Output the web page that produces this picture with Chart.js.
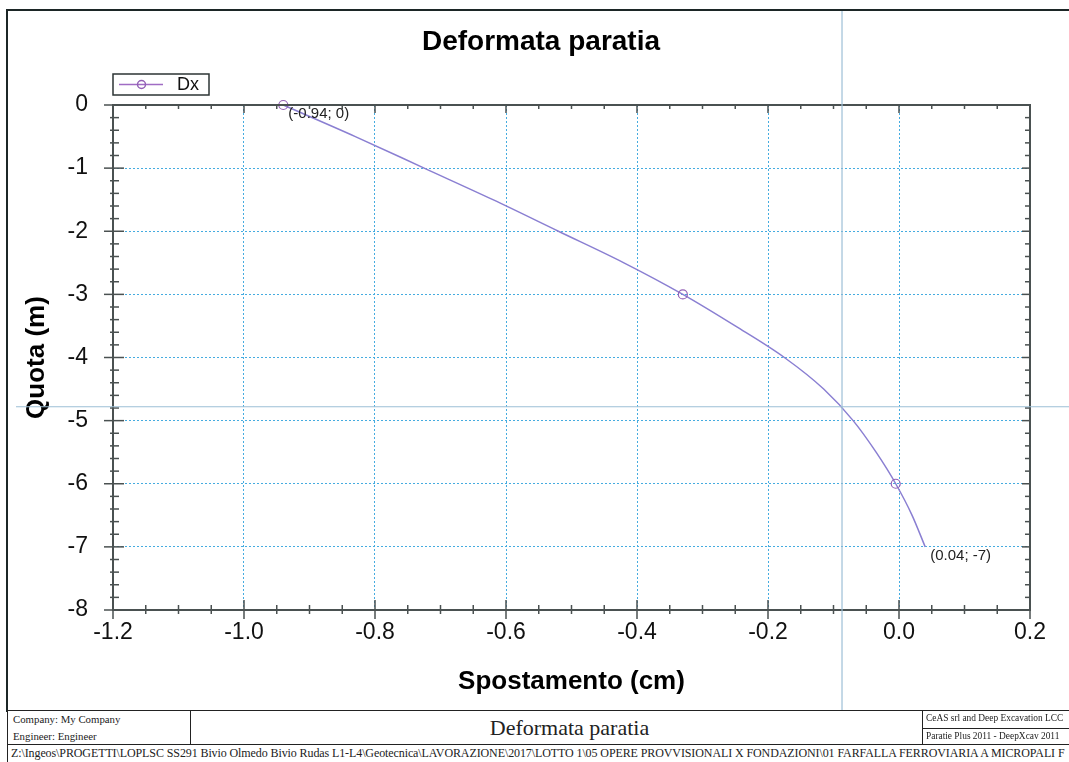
<!DOCTYPE html>
<html>
<head>
<meta charset="utf-8">
<script src="https://cdn.jsdelivr.net/npm/chart.js@4.4.1/dist/chart.umd.min.js"></script>
<style>
  html, body { margin:0; padding:0; background:#fff; overflow:hidden; }
  #wrap { position:relative; width:1069px; height:762px; overflow:hidden; }
  #c { position:absolute; left:0; top:0; }
  .cell { position:absolute; box-sizing:border-box; border:1.5px solid #222; font-family:"Liberation Serif", "Times New Roman", serif; color:#222; white-space:nowrap; overflow:hidden; background:#fff; }
  .small { font-size:10.8px; line-height:17px; padding-left:5px; }
  .tiny { font-size:9.4px; line-height:15px; padding-left:3px; }
</style>
</head>
<body>
<div id="wrap">
  <canvas id="c" width="1069" height="712"></canvas>
  <div class="cell small" style="left:7px;top:710px;width:184px;height:35px;">Company: My Company<br>Engineer: Engineer</div>
  <div class="cell" style="left:190px;top:710px;width:733px;height:35px;font-size:22px;line-height:33px;text-align:center;padding-left:26px;">Deformata paratia</div>
  <div class="cell tiny" style="left:922px;top:710px;width:170px;height:19.5px;">CeAS srl and Deep Excavation LCC</div>
  <div class="cell tiny" style="left:922px;top:728px;width:170px;height:17px;">Paratie Plus 2011 - DeepXcav 2011</div>
  <div class="cell" style="left:7px;top:743.5px;width:1090px;height:24px;font-size:12px;letter-spacing:-0.1px;line-height:17px;padding-left:3px;">Z:\Ingeos\PROGETTI\LOPLSC SS291 Bivio Olmedo Bivio Rudas L1-L4\Geotecnica\LAVORAZIONE\2017\LOTTO 1\05 OPERE PROVVISIONALI X FONDAZIONI\01 FARFALLA FERROVIARIA A MICROPALI F</div>
</div>
<script>
// wall deflection: quota (m) vs spostamento (cm)
const quota = [0, -0.5, -1, -1.5, -2, -2.5, -3, -3.5, -4, -4.5, -5, -5.5, -6, -6.5, -7];
const spostamento = [-0.94, -0.83, -0.725, -0.62, -0.52, -0.42, -0.33, -0.25, -0.175, -0.115, -0.07, -0.035, -0.005, 0.02, 0.04];
const markerIdx = [0, 6, 12];
const seriesName = 'Dx';
const xTickVals = [-1.2, -1.0, -0.8, -0.6, -0.4, -0.2, 0.0, 0.2];
const xTickLabels = ['-1.2', '-1.0', '-0.8', '-0.6', '-0.4', '-0.2', '0.0', '0.2'];
const yTickVals = [0, -1, -2, -3, -4, -5, -6, -7, -8];
const yTickLabels = ['0', '-1', '-2', '-3', '-4', '-5', '-6', '-7', '-8'];
const cursor = { x: -0.087, y: -4.78 };

const FONT = 'Liberation Sans, Arial, sans-serif';
const AXIS = '#4a5151';
const LINE = '#8a7fd2';
const MARK = '#9461b6';
const GRID = '#45ace0';

const fixTicks = (vals) => (s) => { s.ticks = vals.map(v => ({ value: v })); };

const frame = {
  id: 'frame',
  afterDatasetsDraw(chart) {
    const { ctx, chartArea: a, scales: { x, y } } = chart;
    ctx.save();
    ctx.strokeStyle = AXIS;
    ctx.lineWidth = 1.5;
    const seg = (x1, y1, x2, y2) => { ctx.beginPath(); ctx.moveTo(x1, y1); ctx.lineTo(x2, y2); ctx.stroke(); };
    // minor + major ticks on x
    for (let i = 0; i <= 28; i++) {
      const px = x.getPixelForValue(-1.2 + i * 0.05);
      const major = i % 4 === 0;
      seg(px, a.bottom - (major ? 10 : 5), px, a.bottom + (major ? 9 : 4));
      seg(px, a.top, px, a.top + (major ? 8 : 4));
    }
    for (let i = 0; i <= 40; i++) {
      const py = y.getPixelForValue(-i * 0.2);
      const major = i % 5 === 0;
      seg(a.left - (major ? 9 : 3), py, a.left + (major ? 11 : 6), py);
      seg(a.right - (major ? 8 : 5), py, a.right, py);
    }
    ctx.lineWidth = 2;
    ctx.strokeRect(a.left, a.top, a.right - a.left, a.bottom - a.top);
    ctx.restore();
  },
  afterDraw(chart) {
    const { ctx, chartArea: a, scales: { x, y } } = chart;
    const meta = chart.getDatasetMeta(0);
    ctx.save();
    // point labels
    ctx.fillStyle = '#222';
    ctx.font = '15px ' + FONT;
    ctx.textBaseline = 'middle';
    [0, quota.length - 1].forEach(i => {
      const p = meta.data[i];
      ctx.fillText('(' + spostamento[i] + '; ' + quota[i] + ')', p.x + 5, p.y + 8.5);
    });
    // legend
    const lx = a.left, ly = a.top - 31;
    ctx.strokeStyle = '#2c3535';
    ctx.lineWidth = 1.5;
    ctx.strokeRect(lx, ly, 96, 21);
    ctx.strokeStyle = '#a06cc4';
    ctx.beginPath(); ctx.moveTo(lx + 6, ly + 10.5); ctx.lineTo(lx + 50, ly + 10.5); ctx.stroke();
    ctx.strokeStyle = MARK;
    ctx.beginPath(); ctx.arc(lx + 28.5, ly + 10.5, 4, 0, Math.PI * 2); ctx.stroke();
    ctx.fillStyle = '#111';
    ctx.font = '18px ' + FONT;
    ctx.fillText(seriesName, lx + 64, ly + 11);
    // outer border
    ctx.strokeStyle = '#1c2626';
    ctx.lineWidth = 2;
    ctx.beginPath(); ctx.moveTo(7, chart.height); ctx.lineTo(7, 10); ctx.lineTo(chart.width, 10); ctx.stroke();
    // crosshair
    ctx.strokeStyle = '#9dbfd6';
    ctx.lineWidth = 1.2;
    const cx = x.getPixelForValue(cursor.x), cy = y.getPixelForValue(cursor.y);
    ctx.beginPath(); ctx.moveTo(cx, 11); ctx.lineTo(cx, chart.height); ctx.stroke();
    ctx.beginPath(); ctx.moveTo(16, cy); ctx.lineTo(chart.width, cy); ctx.stroke();
    ctx.restore();
  }
};

new Chart(document.getElementById('c'), {
  type: 'scatter',
  data: {
    datasets: [{
      label: seriesName,
      data: quota.map((q, i) => ({ x: spostamento[i], y: q })),
      showLine: true,
      borderColor: LINE,
      borderWidth: 1.5,
      cubicInterpolationMode: 'monotone',
      pointRadius: (c) => markerIdx.includes(c.dataIndex) ? 4.5 : 0,
      pointBorderColor: MARK,
      pointBackgroundColor: 'rgba(0,0,0,0)',
      pointBorderWidth: 1.2,
      clip: false
    }]
  },
  options: {
    responsive: false,
    animation: false,
    layout: { padding: { left: 13, right: 0, top: 25, bottom: 0 } },
    plugins: {
      legend: { display: false },
      tooltip: { enabled: false },
      title: {
        display: true,
        text: 'Deformata paratia',
        color: '#000',
        font: { family: FONT, size: 28, weight: 'bold' },
        padding: { top: 0, bottom: 46.4 }
      }
    },
    scales: {
      x: {
        type: 'linear', position: 'bottom', min: -1.2, max: 0.2,
        afterBuildTicks: fixTicks(xTickVals),
        afterFit: (s) => { s.height = 102; },
        grid: { color: GRID, lineWidth: 1, drawTicks: false },
        border: { display: false, dash: [2, 2] },
        ticks: { color: '#111', font: { family: FONT, size: 23 }, padding: 9, maxRotation: 0,
                 callback: (v, i) => xTickLabels[i] },
        title: { display: true, text: 'Spostamento (cm)', color: '#000',
                 font: { family: FONT, size: 26, weight: 'bold' }, padding: { top: 0, bottom: 14.4 } }
      },
      y: {
        type: 'linear', position: 'left', min: -8, max: 0,
        afterBuildTicks: fixTicks(yTickVals),
        afterFit: (s) => { s.width = 100; },
        grid: { color: GRID, lineWidth: 1, drawTicks: false },
        border: { display: false, dash: [2, 2] },
        ticks: { color: '#111', font: { family: FONT, size: 23 }, padding: 25,
                 callback: (v, i) => yTickLabels[i] },
        title: { display: true, text: 'Quota (m)', color: '#000',
                 font: { family: FONT, size: 26, weight: 'bold' }, padding: { top: 8.4, bottom: 0 } }
      },
      y2: {
        type: 'linear', position: 'right', min: -8, max: 0, display: true,
        afterFit: (s) => { s.width = 39; },
        grid: { display: false, drawTicks: false },
        border: { display: false },
        ticks: { display: false }
      }
    }
  },
  plugins: [frame]
});
</script>
</body>
</html>
